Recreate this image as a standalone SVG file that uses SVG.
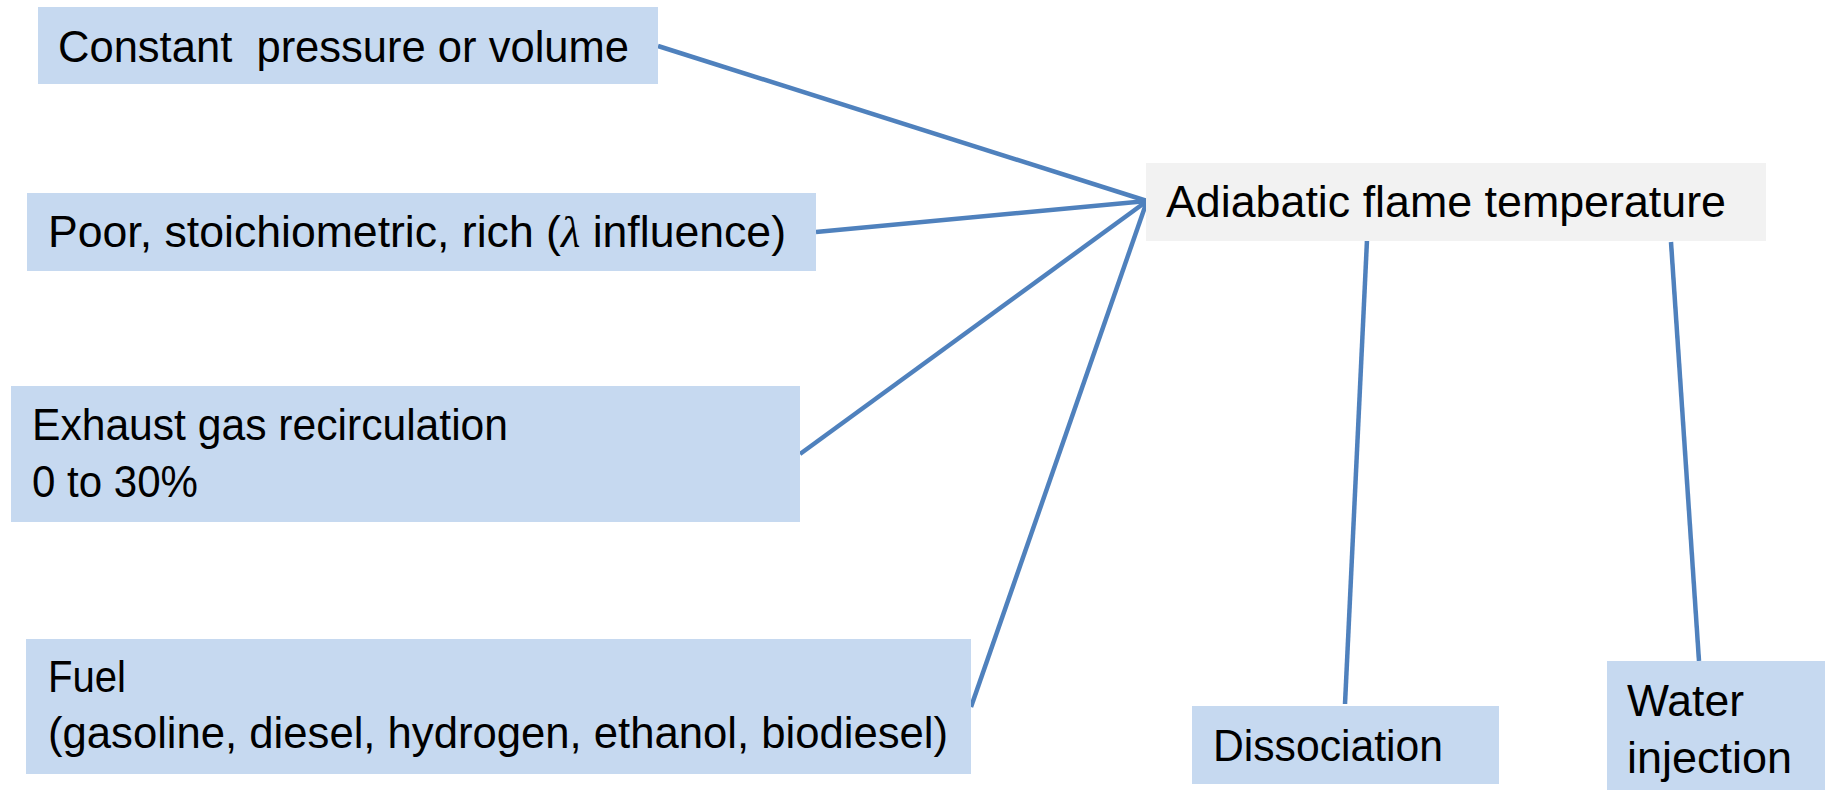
<svg xmlns="http://www.w3.org/2000/svg" width="1825" height="790" viewBox="0 0 1825 790">
  <style>
    .box { fill: #c6d9f0; }
    .hub { fill: #f2f2f2; }
    .lbl { font-family: "Liberation Sans", Arial, sans-serif; font-size: 44px; fill: #000; }
    .link { stroke: #4f81bd; stroke-width: 4.5; fill: none; stroke-linecap: butt; }
    .lam { font-family: "Liberation Serif", serif; font-style: italic; }
  </style>

  <rect width="1825" height="790" fill="#ffffff"/>

  <!-- connectors -->
  <g id="connectors">
    <line class="link" x1="658" y1="46" x2="1147" y2="201"/>
    <line class="link" x1="816" y1="232" x2="1147" y2="201"/>
    <line class="link" x1="800" y1="454" x2="1147" y2="201"/>
    <line class="link" x1="971" y1="707" x2="1147" y2="201"/>
    <line class="link" x1="1367" y1="240" x2="1345" y2="704"/>
    <line class="link" x1="1671" y1="242" x2="1699" y2="661"/>
  </g>

  <g id="node-pressure">
    <rect class="box" x="38" y="7" width="620" height="77"/>
    <text class="lbl" x="58" y="62" xml:space="preserve" textLength="571" lengthAdjust="spacingAndGlyphs">Constant  pressure or volume</text>
  </g>

  <g id="node-lambda">
    <rect class="box" x="27" y="193" width="789" height="78"/>
    <text class="lbl" x="48" y="247" textLength="738" lengthAdjust="spacingAndGlyphs">Poor, stoichiometric, rich (<tspan class="lam">λ</tspan> influence)</text>
  </g>

  <g id="node-egr">
    <rect class="box" x="11" y="386" width="789" height="136"/>
    <text class="lbl" x="32" y="440" textLength="476" lengthAdjust="spacingAndGlyphs">Exhaust gas recirculation</text>
    <text class="lbl" x="32" y="497" textLength="166" lengthAdjust="spacingAndGlyphs">0 to 30%</text>
  </g>

  <g id="node-fuel">
    <rect class="box" x="26" y="639" width="945" height="135"/>
    <text class="lbl" x="48" y="692" textLength="78" lengthAdjust="spacingAndGlyphs">Fuel</text>
    <text class="lbl" x="48" y="748" textLength="900" lengthAdjust="spacingAndGlyphs">(gasoline, diesel, hydrogen, ethanol, biodiesel)</text>
  </g>

  <g id="node-adiabatic">
    <rect class="hub" x="1146" y="163" width="620" height="78"/>
    <text class="lbl" x="1166" y="217" textLength="560" lengthAdjust="spacingAndGlyphs">Adiabatic flame temperature</text>
  </g>

  <g id="node-dissociation">
    <rect class="box" x="1192" y="706" width="307" height="78"/>
    <text class="lbl" x="1213" y="761" textLength="230" lengthAdjust="spacingAndGlyphs">Dissociation</text>
  </g>

  <g id="node-water">
    <rect class="box" x="1607" y="661" width="218" height="129"/>
    <text class="lbl" x="1627" y="716" textLength="117" lengthAdjust="spacingAndGlyphs">Water</text>
    <text class="lbl" x="1627" y="773" textLength="165" lengthAdjust="spacingAndGlyphs">injection</text>
  </g>
</svg>
